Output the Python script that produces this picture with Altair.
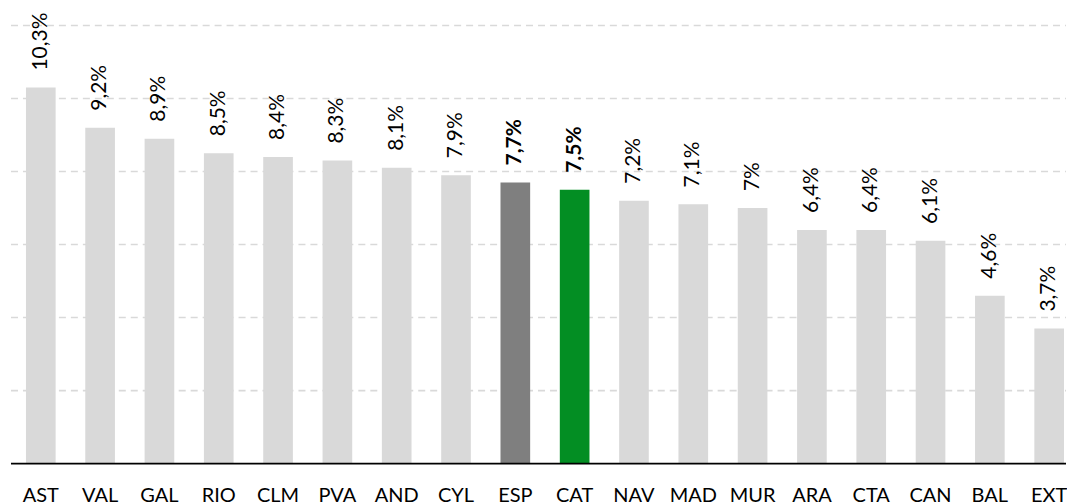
import altair as alt
import pandas as pd

regions = ["AST", "VAL", "GAL", "RIO", "CLM", "PVA", "AND", "CYL", "ESP",
           "CAT", "NAV", "MAD", "MUR", "ARA", "CTA", "CAN", "BAL", "EXT"]
values = [10.3, 9.2, 8.9, 8.5, 8.4, 8.3, 8.1, 7.9, 7.7,
          7.5, 7.2, 7.1, 7.0, 6.4, 6.4, 6.1, 4.6, 3.7]
labels = ["10,3%", "9,2%", "8,9%", "8,5%", "8,4%", "8,3%", "8,1%", "7,9%", "7,7%",
          "7,5%", "7,2%", "7,1%", "7%", "6,4%", "6,4%", "6,1%", "4,6%", "3,7%"]
bold_regions = ["ESP", "CAT"]
grid_values = [2, 4, 6, 8, 10, 12]
baseline_values = [0]

df = pd.DataFrame({"region": regions, "value": values, "label": labels})
df["kind"] = [r if r in bold_regions else "other" for r in regions]
df["bold"] = [r in bold_regions for r in regions]
grid_df = pd.DataFrame({"value": grid_values})
base_df = pd.DataFrame({"value": baseline_values})

FONT = "Lato"
W, H = 1044, 454

x = alt.X("region:N", sort=regions, title=None,
          scale=alt.Scale(paddingInner=0.5, paddingOuter=0.0337, round=False),
          axis=alt.Axis(labelAngle=0, labelFontSize=20, labelColor="#000000",
                        labelFont=FONT, labelPadding=22, ticks=False,
                        domain=False, grid=False))
y = alt.Y("value:Q", title=None,
          scale=alt.Scale(domain=[0, 12.41], nice=False, zero=True), axis=None)

grid = alt.Chart(grid_df).mark_rule(
    color="#d9d9d9", strokeDash=[7, 5], strokeWidth=1.6
).encode(y=y, x=alt.value(-13), x2=alt.value(W))

baseline = alt.Chart(base_df).mark_rule(
    color="#000000", strokeWidth=1.8
).encode(y=y, x=alt.value(-13), x2=alt.value(W))

base = alt.Chart(df)

bars = base.mark_bar().encode(
    x=x, y=y,
    color=alt.Color("kind:N",
                    scale=alt.Scale(domain=["other", "ESP", "CAT"],
                                    range=["#d9d9d9", "#7f7f7f", "#038e23"]),
                    legend=None),
)

text_normal = base.transform_filter("!datum.bold").mark_text(
    angle=270, align="left", baseline="middle", dx=17,
    font=FONT, fontSize=21, color="#000000"
).encode(x=x, y=y, text="label:N")

text_bold = base.transform_filter("datum.bold").mark_text(
    angle=270, align="left", baseline="middle", dx=17,
    font=FONT, fontSize=21, fontWeight="bold", color="#000000"
).encode(x=x, y=y, text="label:N")

chart = alt.layer(grid, bars, baseline, text_normal, text_bold).properties(
    width=W, height=H,
    padding={"left": 2, "top": 2, "right": 0, "bottom": 0},
    background="white",
).configure_view(stroke=None)

chart.save("out.html", embed_options={"renderer": "svg", "actions": False})
